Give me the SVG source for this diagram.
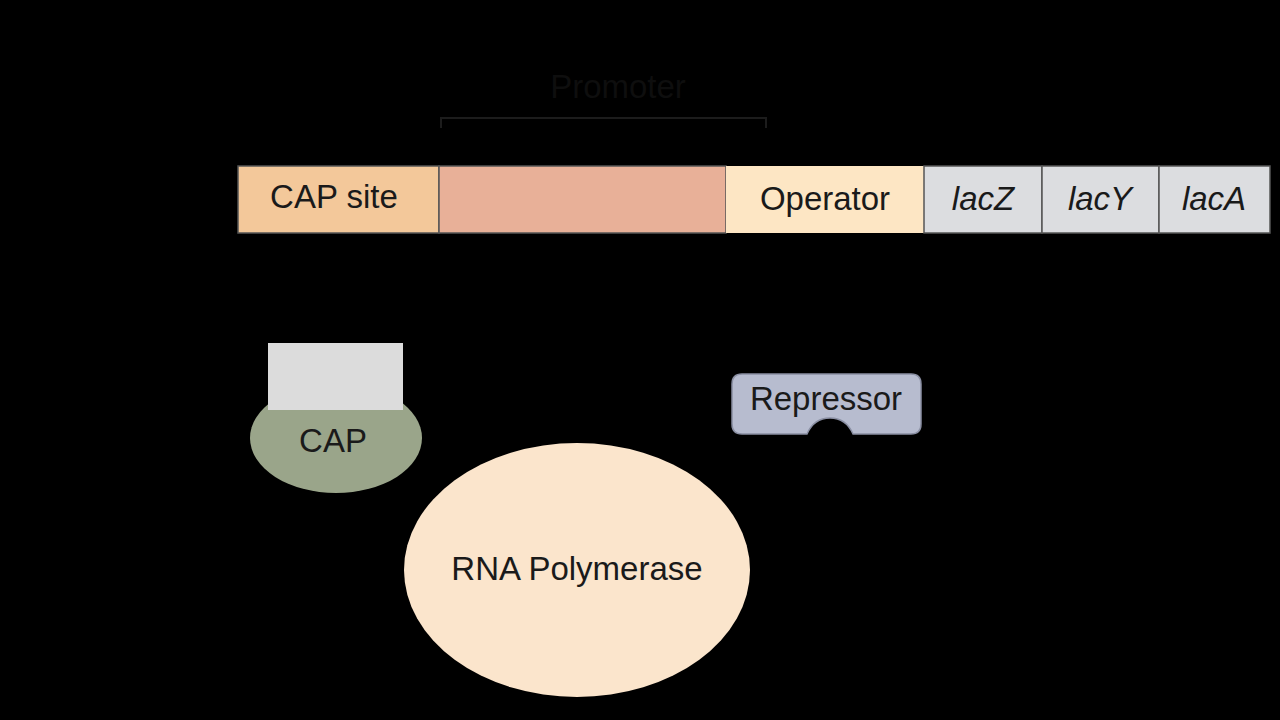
<svg xmlns="http://www.w3.org/2000/svg" width="1280" height="720" viewBox="0 0 1280 720">
<style>
text{font-family:"Liberation Sans",Arial,sans-serif;font-size:33px;fill:#1a1a1a}
.i{font-style:italic}
.seg{stroke:#555;stroke-width:1.5}
</style>
<rect width="1280" height="720" fill="#000"/>
<g id="promoter-label">
<text x="618" y="98" text-anchor="middle" style="fill:#0e0e0e">Promoter</text>
<path d="M441,128 V118 H766 V128" fill="none" stroke="#1c1c1c" stroke-width="2"/>
</g>
<g id="cap-site"><rect class="seg" x="238" y="166" width="201" height="67" fill="#f3c89a"/><text x="334" y="208" text-anchor="middle">CAP site</text></g>
<g id="promoter-region"><rect class="seg" x="439" y="166" width="287" height="67" fill="#e8b098"/></g>
<g id="operator"><rect x="726" y="166" width="198" height="67" fill="#fde6c4"/><text x="825" y="210" text-anchor="middle">Operator</text></g>
<g id="lacZ"><rect class="seg" x="924" y="166" width="118" height="67" fill="#dcdde0"/><text class="i" x="983" y="210" text-anchor="middle">lacZ</text></g>
<g id="lacY"><rect class="seg" x="1042" y="166" width="117" height="67" fill="#dcdde0"/><text class="i" x="1100" y="210" text-anchor="middle">lacY</text></g>
<g id="lacA"><rect class="seg" x="1159" y="166" width="111" height="67" fill="#dcdde0"/><text class="i" x="1214" y="210" text-anchor="middle">lacA</text></g>
<g id="cap">
<ellipse cx="336" cy="438" rx="86" ry="55" fill="#9aa58a"/>
<rect x="268" y="343" width="135" height="67" fill="#dcdcdc"/>
<text x="333" y="452" text-anchor="middle">CAP</text>
</g>
<g id="repressor">
<path d="M742,374 H911 Q921,374 921,384 V424 Q921,434 911,434 H853 Q846,418 830,418 Q814,418 807,434 H742 Q732,434 732,424 V384 Q732,374 742,374 Z" fill="#b7bccf" stroke="#8a8fa3" stroke-width="1.5"/>
<text x="826" y="410" text-anchor="middle">Repressor</text>
</g>
<g id="rna-polymerase">
<ellipse cx="577" cy="570" rx="173" ry="127" fill="#fbe5cc"/>
<text x="577" y="580" text-anchor="middle">RNA Polymerase</text>
</g>
<g id="connectors"/>
</svg>
